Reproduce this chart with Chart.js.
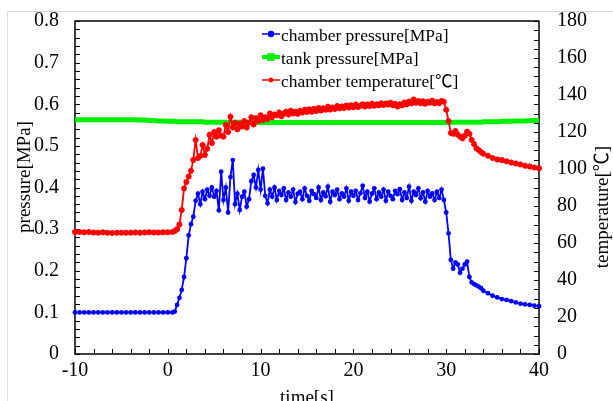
<!DOCTYPE html>
<html>
<head>
<meta charset="utf-8">
<script src="https://cdn.jsdelivr.net/npm/chart.js@4.4.0/dist/chart.umd.min.js"></script>
<style>
html,body{margin:0;padding:0;background:#fff;overflow:hidden;}
#wrap{position:relative;width:613px;height:401px;overflow:hidden;}
#frame{position:absolute;left:7px;top:11px;width:700px;height:500px;border:1px solid #dcdcdc;}
canvas{position:absolute;left:0;top:0;}
</style>
</head>
<body>
<div id="wrap"><div id="frame"></div><canvas id="chart" width="613" height="401"></canvas></div>
<script>
// sample times [s]
const timeS = [
  -10,-9.5,-9,-8.5,-8,-7.5,-7,-6.5,-6,-5.5,-5,-4.5,-4,-3.5,-3,-2.5,-2,-1.5,-1,-0.5,0,0.5,
  0.75,
  1,1.25,1.5,1.75, 2,2.25,2.5,2.75, 3,3.25,3.5,3.75, 4,4.25,4.5,4.75,
  5,5.25,5.5,5.75, 6,6.25,6.5,6.75, 7,7.25,7.5,7.75, 8,8.25,8.5,8.75,
  9,9.25,9.5,9.75, 10,10.25,10.5,10.75, 11,11.25,11.5,11.75, 12,12.25,12.5,12.75,
  13,13.25,13.5,13.75, 14,14.25,14.5,14.75, 15,15.25,15.5,15.75, 16,16.25,16.5,16.75,
  17,17.25,17.5,17.75, 18,18.25,18.5,18.75, 19,19.25,19.5,19.75, 20,20.25,20.5,20.75,
  21,21.25,21.5,21.75, 22,22.25,22.5,22.75, 23,23.25,23.5,23.75, 24,24.25,24.5,24.75,
  25,25.25,25.5,25.75, 26,26.25,26.5,26.75, 27,27.25,27.5,27.75, 28,28.25,28.5,28.75,
  29,29.25,29.5,29.75, 30,30.25,30.5,30.75, 31,31.25,31.5,31.75, 32,32.25,32.5,32.75,
  33,33.25,33.5,33.75,
  34,
  34.5,35,35.5,36,36.5,37,37.5,38,38.5,39,39.5,40
];

// chamber pressure [MPa]
const chamberPressure = [
  0.1,0.1,0.1,0.1,0.1,0.1,0.1,0.1,0.1,0.1,0.1,0.1,0.1,0.1,0.1,0.1,0.1,0.1,0.1,0.1,0.1,0.1,
  0.102,
  0.118,0.135,0.154,0.185, 0.23,0.285,0.312,0.33, 0.368,0.385,0.36,0.39, 0.372,0.395,0.38,0.4,
  0.378,0.392,0.345,0.438, 0.37,0.4,0.34,0.425, 0.466,0.36,0.385,0.346, 0.378,0.39,0.354,0.372,
  0.415,0.43,0.4,0.442, 0.395,0.445,0.38,0.362, 0.395,0.378,0.4,0.37, 0.392,0.382,0.398,0.37,
  0.388,0.378,0.395,0.365, 0.385,0.39,0.372,0.398, 0.38,0.368,0.392,0.384, 0.375,0.4,0.37,0.388,
  0.379,0.402,0.366,0.39, 0.382,0.395,0.372,0.386, 0.378,0.398,0.368,0.39, 0.38,0.392,0.37,0.386,
  0.404,0.375,0.39,0.366, 0.385,0.398,0.372,0.388, 0.378,0.395,0.368,0.39, 0.38,0.372,0.392,0.384,
  0.396,0.37,0.388,0.375, 0.402,0.368,0.39,0.382, 0.398,0.374,0.388,0.366, 0.392,0.378,0.386,0.37,
  0.39,0.375,0.395,0.37, 0.34,0.29,0.226,0.205, 0.22,0.215,0.195,0.205, 0.215,0.222,0.185,0.172,
  0.168,0.165,0.162,0.158,
  0.152,
  0.146,0.14,0.136,0.132,0.13,0.127,0.124,0.121,0.119,0.118,0.116,0.115
];

// tank pressure [MPa]
const tankPressure = [
  0.563,0.563,0.563,0.563,0.563,0.563,0.563,0.563,0.563,0.563,0.563,0.563,0.563,0.563,0.562,0.562,0.561,0.561,0.56,0.56,0.559,0.559,
  0.559,
  0.558,0.558,0.558,0.558, 0.558,0.558,0.558,0.558, 0.558,0.558,0.558,0.558, 0.557,0.557,0.557,0.557,
  0.557,0.557,0.557,0.557, 0.557,0.557,0.557,0.557, 0.557,0.557,0.557,0.557, 0.557,0.557,0.557,0.557,
  0.557,0.557,0.557,0.557, 0.556,0.556,0.556,0.556, 0.556,0.556,0.556,0.556, 0.556,0.556,0.556,0.556,
  0.556,0.556,0.556,0.556, 0.556,0.556,0.556,0.556, 0.556,0.556,0.556,0.556, 0.556,0.556,0.556,0.556,
  0.556,0.556,0.556,0.556, 0.556,0.556,0.556,0.556, 0.556,0.556,0.556,0.556, 0.556,0.556,0.556,0.556,
  0.556,0.556,0.556,0.556, 0.556,0.556,0.556,0.556, 0.556,0.556,0.556,0.556, 0.556,0.556,0.556,0.556,
  0.556,0.556,0.556,0.556, 0.556,0.556,0.556,0.556, 0.556,0.556,0.556,0.556, 0.556,0.556,0.556,0.556,
  0.556,0.556,0.556,0.556, 0.556,0.556,0.556,0.557, 0.557,0.557,0.557,0.557, 0.557,0.557,0.557,0.557,
  0.557,0.557,0.557,0.557,
  0.558,
  0.558,0.558,0.558,0.559,0.559,0.559,0.56,0.56,0.56,0.561,0.561,0.561
];

// chamber temperature [°C]
const chamberTemp = [
  66,66,65.8,65.9,65.7,65.6,65.8,65.5,65.4,65.5,65.6,65.5,65.6,65.7,65.6,65.7,65.8,65.7,65.7,65.8,65.8,65.9,
  66.5,
  67.5,70,77.8,89.5, 93,96,99,104.9, 115.7,106,107,113, 107.6,111,118.5,114,
  120,117.5,121,118, 117.5,123.8,120,128.3, 122.5,125,121.5,124.5, 123,126,122.5,125,
  128,124,127.5,126, 129,126.5,128,127, 130,128,129.5,129, 130.5,128.5,130,131,
  129.5,131.5,130,131, 129.8,131.5,130.5,132, 130.8,132.3,131,132.5, 131.4,133,131.6,132.8,
  132,133.6,132.2,133.2, 132.5,134,132.8,133.8, 133,134.3,133.2,134.5, 133.4,134.8,133.5,134.2,
  135,133.8,134.9,134, 135.3,134.2,135,134.4, 135.6,134.6,135.4,134.8, 135.8,134.5,135.2,133.8,
  135,134.4,136,135, 136.5,135.5,137.6,135.8, 136.8,135.6,136.6,135.3, 136.4,135.8,136.9,135.5,
  136.2,135.6,136.8,136.4, 132,126,119.5,119, 120.5,118.5,117.5,116.6, 118,120.2,119,115.7,
  113.5,111.2,110.3,109.2,
  108.2,
  107.2,106,105.2,104.8,104.2,103.5,103,102.4,101.8,101.3,100.8,100.4
];

const seriesLabels = ["chamber pressure[MPa]", "tank pressure[MPa]", "chamber temperature[\u2103]"];
const xTicks = [-10, 0, 10, 20, 30, 40];

const SERIF = '"Liberation Serif", "Times New Roman", "Noto Sans CJK JP", serif';

function pts(vals){
  return timeS.map((t,i)=>({x:t, y:vals[i]}));
}

function noPad(s){
  s.paddingTop = 0; s.paddingBottom = 0; s.paddingLeft = 0; s.paddingRight = 0;
}

// inside minor ticks + plot frame
const framePlugin = {
  id: "frame",
  beforeDatasetsDraw(chart){
    const {ctx, chartArea:a, scales} = chart;
    ctx.save();
    ctx.strokeStyle = "#000";
    ctx.lineWidth = 1;
    ctx.beginPath();
    for(let v=-10; v<=40; v+=2){
      const x = Math.round(scales.x.getPixelForValue(v))+0.5;
      ctx.moveTo(x, a.bottom); ctx.lineTo(x, a.bottom-5);
    }
    for(let i=0; i<=40; i++){
      const y = Math.round(scales.y.getPixelForValue(i*0.02))+0.5;
      ctx.moveTo(a.left, y); ctx.lineTo(a.left+5, y);
    }
    for(let i=0; i<=36; i++){
      const y = Math.round(scales.y1.getPixelForValue(i*5))+0.5;
      ctx.moveTo(a.right, y); ctx.lineTo(a.right-5, y);
    }
    ctx.stroke();
    ctx.lineWidth = 1.5;
    ctx.strokeRect(a.left, a.top, a.right-a.left, a.bottom-a.top);
    ctx.restore();
  }
};

// axis titles
const titlePlugin = {
  id: "titles",
  afterDraw(chart){
    const {ctx, chartArea:a} = chart;
    ctx.save();
    ctx.fillStyle = "#000";
    ctx.font = "19px " + SERIF;
    ctx.textAlign = "center";
    ctx.textBaseline = "middle";
    ctx.fillText("time[s]", (a.left+a.right)/2, 398);
    ctx.translate(25, 177);
    ctx.rotate(-Math.PI/2);
    ctx.fillText("pressure[MPa]", 0, 0);
    ctx.restore();
    ctx.save();
    ctx.fillStyle = "#000";
    ctx.font = "19px " + SERIF;
    ctx.textAlign = "center";
    ctx.textBaseline = "middle";
    ctx.translate(603, 207);
    ctx.rotate(-Math.PI/2);
    ctx.fillText("temperature[\u2103]", 0, 0);
    ctx.restore();
  }
};

// legend inside the plot, top right
const legendPlugin = {
  id: "innerLegend",
  afterDraw(chart){
    const ctx = chart.ctx;
    ctx.save();
    chart.data.datasets.forEach((ds,i)=>{
      const y = 34 + i*23;
      ctx.strokeStyle = ds.borderColor;
      ctx.lineWidth = i===1 ? 4 : 1.5;
      ctx.beginPath(); ctx.moveTo(262, y); ctx.lineTo(280, y); ctx.stroke();
      ctx.fillStyle = ds.borderColor;
      Chart.helpers.drawPoint(ctx, {pointStyle: ds.pointStyle, radius: 2.5, borderWidth: 1.5}, 271, y);
      ctx.fillStyle = "#000";
      ctx.font = "17.5px " + SERIF;
      ctx.textBaseline = "middle";
      ctx.fillText(ds.label, 281, y+2);
    });
    ctx.restore();
  }
};

new Chart(document.getElementById("chart"), {
  type: "line",
  data: {
    datasets: [
      { label: seriesLabels[0], data: pts(chamberPressure), yAxisID: "y", order: 3,
        borderColor: "#0000ff", backgroundColor: "#0000ff", borderWidth: 1.8,
        pointStyle: "circle", pointRadius: 2.4, pointBorderWidth: 0, pointBackgroundColor: "#0000ff" },
      { label: seriesLabels[1], data: pts(tankPressure), yAxisID: "y", order: 2,
        borderColor: "#00f000", backgroundColor: "#00f000", borderWidth: 5,
        pointStyle: "rect", pointRadius: 0 },
      { label: seriesLabels[2], data: pts(chamberTemp), yAxisID: "y1", order: 1,
        borderColor: "#ff0000", backgroundColor: "#ff0000", borderWidth: 1.8,
        pointStyle: "star", pointRadius: 3, pointBorderWidth: 1.8, pointBorderColor: "#ff0000" }
    ]
  },
  options: {
    responsive: false,
    animation: false,
    clip: false,
    layout: { padding: { top: 21, left: 0, right: 0, bottom: 0 } },
    plugins: { legend: { display: false }, tooltip: { enabled: false } },
    scales: {
      x: {
        type: "linear", min: -10, max: 40,
        afterBuildTicks(s){ s.ticks = xTicks.map(v=>({value:v})); },
        afterFit(s){ s.height = 47; noPad(s); },
        grid: { display: false, drawTicks: false },
        border: { display: false },
        ticks: { color: "#000", padding: 5, font: { family: SERIF, size: 20 } }
      },
      y: {
        position: "left", min: 0, max: 0.8,
        afterFit(s){ s.width = 75; noPad(s); },
        grid: { display: false, drawTicks: false },
        border: { display: false },
        ticks: { stepSize: 0.1, color: "#000", padding: 16, font: { family: SERIF, size: 20 } }
      },
      y1: {
        position: "right", min: 0, max: 180,
        afterFit(s){ s.width = 74; noPad(s); },
        grid: { display: false, drawTicks: false },
        border: { display: false },
        ticks: { stepSize: 20, color: "#000", padding: 18, font: { family: SERIF, size: 20 } }
      }
    }
  },
  plugins: [framePlugin, titlePlugin, legendPlugin]
});
</script>
</body>
</html>
